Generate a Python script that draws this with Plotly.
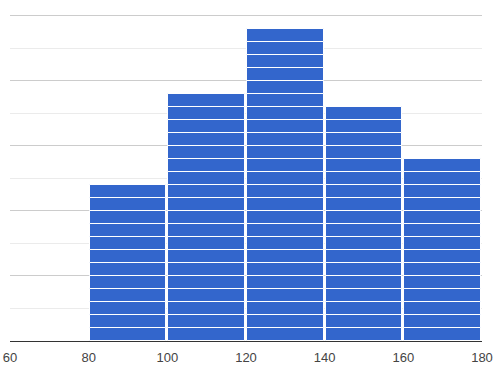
import plotly.graph_objects as go

bin_starts = [80, 100, 120, 140, 160]
bin_size = 20
counts = [12, 19, 24, 18, 14]
x_ticks = [60, 80, 100, 120, 140, 160, 180]

xs, bases, ys = [], [], []
for s, c in zip(bin_starts, counts):
    for k in range(c):
        xs.append(s + bin_size / 2)
        bases.append(k)
        ys.append(1)

fig = go.Figure()
fig.add_trace(go.Bar(
    x=xs, y=ys, base=bases, width=bin_size * 0.975,
    marker=dict(color="#3366cc", line=dict(color="white", width=1)),
    hoverinfo="skip",
))
fig.update_layout(
    width=503, height=375,
    margin=dict(l=10, r=21, t=14, b=34, autoexpand=False),
    paper_bgcolor="white", plot_bgcolor="white",
    showlegend=False,
    font=dict(family="Arial, Liberation Sans, sans-serif", size=13, color="#444"),
    bargap=0,
)
fig.update_xaxes(
    range=[60, 180], tickvals=x_ticks, ticktext=[str(t) for t in x_ticks],
    showgrid=False, zeroline=False, showline=True, linecolor="#333", linewidth=1,
    ticks="", ticklabelstandoff=4, automargin=False,
)
fig.update_yaxes(
    range=[0, 25.15], tickvals=[5, 10, 15, 20, 25], showticklabels=False, showgrid=True,
    gridcolor="#cccccc", gridwidth=1, zeroline=False, automargin=False,
    minor=dict(tickvals=[2.5, 7.5, 12.5, 17.5, 22.5], showgrid=True, gridcolor="#ebebeb"),
)
fig.write_html(
    "out.html",
    config={"displayModeBar": False},
    post_script="document.body.style.margin='0';document.body.style.overflow='hidden';",
)
